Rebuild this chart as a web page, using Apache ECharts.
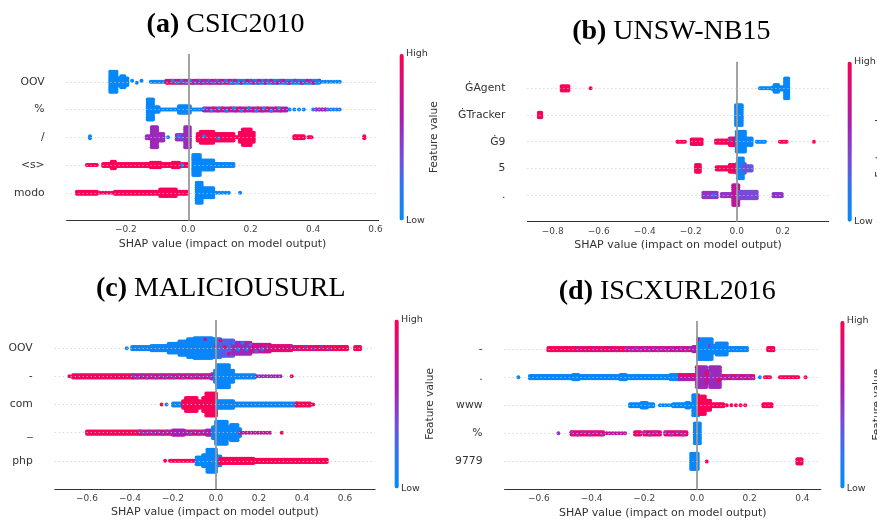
<!DOCTYPE html>
<html>
<head>
<meta charset="utf-8">
<script src="https://cdn.jsdelivr.net/npm/echarts/dist/echarts.min.js"></script>
<style>
  html, body { margin: 0; padding: 0; background: #fff; }
  #chart { width: 877px; height: 522px; }
</style>
</head>
<body>
<div id="chart"></div>
<script>
// feature names, top row first
var featuresA = ['OOV', '%', '/', '<s>', 'modo']
var featuresB = ['\u0120Agent', '\u0120Tracker', '\u01209', '5', '.']
var featuresC = ['OOV', '-', 'com', '_', 'php']
var featuresD = ['-', '.', 'www', '%', '9779']

var ticksA = [-0.2, 0, 0.2, 0.4, 0.6]
var ticksB = [-0.8, -0.6, -0.4, -0.2, 0, 0.2]
var ticksC = [-0.6, -0.4, -0.2, 0, 0.2, 0.4, 0.6]
var ticksD = [-0.6, -0.4, -0.2, 0, 0.2, 0.4]

// swarm bands: [row, shap from, shap to, points stacked, feature value (0 low .. 1 high), share drawn]
var shapA = [
  [0, -0.25, -0.23, 10, 0.02], [0, -0.225, -0.195, 4, 0.02], [0, -0.215, -0.205, 6, 0.02],
  [0, -0.18, -0.14, 2, 0.02, 0.4], [0, -0.12, -0.07, 1, 0.05],
  [0, -0.07, 0.145, 2, 0.85], [0, -0.05, 0.14, 2, 0.1, 0.3], [0, 0.0, 0.1, 2, 0.55, 0.3],
  [0, 0.145, 0.42, 2, 0.08], [0, 0.15, 0.42, 2, 0.8, 0.25], [0, 0.2, 0.4, 2, 0.5, 0.2],
  [0, 0.42, 0.49, 1, 0.05, 0.5],
  [1, -0.13, -0.113, 10, 0.03], [1, -0.113, -0.03, 1, 0.03], [1, -0.11, -0.095, 3, 0.03],
  [1, -0.03, 0.005, 4, 0.05], [1, 0.005, 0.05, 1, 0.05],
  [1, 0.05, 0.315, 2, 0.6], [1, 0.08, 0.3, 2, 0.92, 0.35], [1, 0.05, 0.3, 2, 0.1, 0.2],
  [1, 0.325, 0.37, 1, 0.05, 0.4], [1, 0.4, 0.49, 1, 0.1, 0.6], [1, 0.41, 0.44, 1, 0.55, 0.5],
  [2, -0.315, -0.315, 2, 0.05], [2, -0.133, -0.117, 2, 0.55], [2, -0.117, -0.1, 10, 0.55],
  [2, -0.1, -0.08, 4, 0.55], [2, -0.065, -0.065, 1, 0.05],
  [2, -0.037, -0.01, 3, 0.5], [2, -0.03, -0.01, 2, 0.1, 0.3], [2, -0.01, 0.005, 10, 0.55],
  [2, 0.03, 0.145, 4, 0.97], [2, 0.04, 0.08, 6, 0.97], [2, 0.05, 0.12, 2, 0.1, 0.1],
  [2, 0.145, 0.165, 1, 0.97], [2, 0.165, 0.21, 5, 0.97], [2, 0.175, 0.2, 8, 0.97],
  [2, 0.34, 0.37, 2, 0.97], [2, 0.385, 0.395, 1, 0.97], [2, 0.564, 0.564, 2, 0.97],
  [3, -0.325, -0.293, 1, 0.97], [3, -0.273, -0.004, 2, 0.97], [3, -0.245, -0.235, 4, 0.97],
  [3, -0.12, -0.09, 3, 0.97], [3, -0.05, -0.03, 3, 0.97], [3, -0.02, -0.02, 1, 0.05],
  [3, 0.016, 0.037, 10, 0.04], [3, 0.037, 0.08, 5, 0.04], [3, 0.08, 0.145, 2, 0.04],
  [4, -0.357, -0.293, 2, 0.97], [4, -0.283, -0.235, 1, 0.97, 0.5], [4, -0.235, -0.005, 2, 0.97],
  [4, -0.09, -0.04, 4, 0.97], [4, 0.027, 0.043, 10, 0.04], [4, 0.043, 0.08, 5, 0.04],
  [4, 0.08, 0.135, 1, 0.04, 0.6], [4, 0.166, 0.166, 1, 0.04]
]

var shapB = [
  [0, -0.761, -0.732, 3, 0.97], [0, -0.635, -0.635, 1, 0.97],
  [0, 0.101, 0.158, 1, 0.03], [0, 0.158, 0.21, 2, 0.03], [0, 0.165, 0.18, 4, 0.03],
  [0, 0.21, 0.224, 10, 0.03],
  [1, -0.86, -0.85, 3, 0.97], [1, -0.003, 0.022, 10, 0.03],
  [2, -0.258, -0.225, 1, 0.97], [2, -0.196, -0.152, 3, 0.97], [2, -0.09, 0.0, 2, 0.97],
  [2, -0.03, 0.0, 4, 0.97], [2, -0.03, 0.0, 3, 0.5, 0.2], [2, 0.0, 0.036, 10, 0.03],
  [2, 0.036, 0.065, 4, 0.03], [2, 0.087, 0.123, 1, 0.03], [2, 0.188, 0.217, 1, 0.97],
  [2, 0.336, 0.336, 1, 0.97],
  [3, -0.177, -0.16, 4, 0.97], [3, -0.087, -0.007, 2, 0.97], [3, -0.03, -0.005, 4, 0.97],
  [3, 0.0, 0.035, 5, 0.5], [3, 0.005, 0.027, 10, 0.03], [3, 0.027, 0.065, 3, 0.35],
  [4, -0.145, -0.087, 3, 0.5], [4, -0.1, -0.1, 1, 0.05], [4, -0.065, -0.015, 2, 0.5],
  [4, -0.015, 0.007, 10, 0.7], [4, 0.007, 0.087, 4, 0.4], [4, 0.16, 0.196, 2, 0.5]
]

var shapC = [
  [0, -0.415, -0.415, 1, 0.05], [0, -0.39, -0.3, 2, 0.05], [0, -0.3, -0.22, 3, 0.05],
  [0, -0.22, -0.17, 5, 0.05], [0, -0.17, -0.13, 7, 0.05], [0, -0.13, -0.1, 9, 0.05],
  [0, -0.1, -0.02, 10, 0.05], [0, -0.02, 0.02, 9, 0.08], [0, -0.05, 0.02, 9, 0.6, 0.15],
  [0, 0.02, 0.08, 8, 0.3], [0, 0.02, 0.08, 8, 0.85, 0.3],
  [0, 0.08, 0.16, 6, 0.55], [0, 0.08, 0.16, 6, 0.1, 0.35],
  [0, 0.16, 0.25, 4, 0.75], [0, 0.16, 0.25, 4, 0.3, 0.25], [0, 0.25, 0.35, 3, 0.85],
  [0, 0.35, 0.61, 2, 0.95], [0, 0.35, 0.55, 2, 0.55, 0.2], [0, 0.647, 0.67, 2, 0.97],
  [1, -0.682, -0.682, 1, 0.97], [1, -0.665, -0.385, 2, 0.95],
  [1, -0.385, -0.02, 2, 0.85], [1, -0.385, -0.02, 2, 0.5, 0.3], [1, -0.02, 0.0, 3, 0.55],
  [1, -0.005, 0.005, 6, 0.1], [1, 0.005, 0.06, 11, 0.04], [1, 0.06, 0.08, 6, 0.04],
  [1, 0.08, 0.18, 2, 0.04], [1, 0.19, 0.3, 1, 0.55, 0.5], [1, 0.352, 0.352, 1, 0.97],
  [2, -0.253, -0.253, 1, 0.97], [2, -0.23, -0.23, 1, 0.04], [2, -0.2, -0.153, 2, 0.04],
  [2, -0.153, -0.14, 4, 0.97], [2, -0.14, -0.09, 7, 0.97], [2, -0.09, -0.075, 4, 0.97],
  [2, -0.075, -0.06, 3, 0.97], [2, -0.06, -0.045, 7, 0.97], [2, -0.045, 0.0, 11, 0.97],
  [2, 0.005, 0.08, 4, 0.04], [2, 0.08, 0.375, 2, 0.04], [2, 0.375, 0.437, 2, 0.97],
  [2, 0.452, 0.452, 1, 0.97],
  [3, -0.6, -0.353, 2, 0.97], [3, -0.353, -0.043, 2, 0.85], [3, -0.353, -0.043, 2, 0.5, 0.3],
  [3, -0.2, -0.15, 3, 0.6], [3, -0.043, -0.014, 3, 0.6], [3, -0.014, 0.0, 6, 0.04],
  [3, 0.0, 0.05, 11, 0.04], [3, 0.05, 0.07, 6, 0.04], [3, 0.07, 0.1, 8, 0.04],
  [3, 0.1, 0.112, 4, 0.04], [3, 0.112, 0.251, 1, 0.7, 0.6], [3, 0.306, 0.306, 1, 0.97],
  [4, -0.237, -0.237, 1, 0.97], [4, -0.214, -0.09, 1, 0.97], [4, -0.09, -0.06, 4, 0.04],
  [4, -0.06, -0.04, 6, 0.04], [4, -0.04, 0.0, 11, 0.04], [4, 0.0, 0.02, 5, 0.04],
  [4, 0.02, 0.173, 3, 0.97], [4, 0.173, 0.515, 2, 0.97]
]

var shapD = [
  [0, -0.564, -0.267, 2, 0.95], [0, -0.45, -0.3, 2, 0.6, 0.2], [0, -0.267, -0.014, 2, 0.85],
  [0, -0.267, -0.014, 2, 0.5, 0.3], [0, -0.014, 0.004, 3, 0.6], [0, 0.004, 0.056, 10, 0.05],
  [0, 0.004, 0.056, 10, 0.6, 0.12], [0, 0.056, 0.075, 4, 0.05], [0, 0.075, 0.113, 6, 0.05],
  [0, 0.113, 0.19, 2, 0.05], [0, 0.27, 0.29, 2, 0.97],
  [1, -0.678, -0.678, 1, 0.04], [1, -0.634, -0.065, 2, 0.04], [1, -0.47, -0.45, 3, 0.04],
  [1, -0.29, -0.27, 3, 0.04], [1, -0.1, -0.065, 3, 0.04],
  [1, -0.065, 0.0, 3, 0.6], [1, -0.065, 0.0, 3, 0.95, 0.3], [1, 0.0, 0.035, 10, 0.55],
  [1, 0.035, 0.05, 6, 0.7], [1, 0.05, 0.087, 10, 0.55], [1, 0.0, 0.087, 10, 0.1, 0.12],
  [1, 0.0, 0.087, 10, 0.95, 0.15], [1, 0.087, 0.214, 2, 0.85],
  [1, 0.087, 0.214, 2, 0.5, 0.3], [1, 0.239, 0.239, 1, 0.04], [1, 0.258, 0.277, 1, 0.97],
  [1, 0.315, 0.384, 1, 0.97], [1, 0.412, 0.412, 1, 0.97],
  [2, -0.254, -0.166, 2, 0.04], [2, -0.21, -0.19, 3, 0.04], [2, -0.14, -0.09, 1, 0.04, 0.5],
  [2, -0.09, -0.014, 2, 0.04], [2, -0.04, -0.03, 3, 0.04], [2, -0.014, 0.005, 10, 0.04],
  [2, 0.005, 0.03, 9, 0.97], [2, 0.03, 0.05, 5, 0.97], [2, 0.05, 0.1, 2, 0.97],
  [2, 0.113, 0.189, 1, 0.97, 0.4], [2, 0.252, 0.283, 2, 0.97],
  [3, -0.526, -0.526, 1, 0.5], [3, -0.476, -0.356, 2, 0.9], [3, -0.476, -0.356, 2, 0.5, 0.25],
  [3, -0.343, -0.267, 1, 0.7, 0.5], [3, -0.235, -0.215, 2, 0.9], [3, -0.2, -0.14, 2, 0.9],
  [3, -0.2, -0.14, 2, 0.5, 0.25], [3, -0.12, -0.04, 2, 0.9], [3, -0.12, -0.04, 2, 0.45, 0.25],
  [3, -0.008, 0.011, 10, 0.04],
  [4, -0.022, 0.003, 8, 0.04], [4, 0.037, 0.037, 1, 0.97], [4, 0.381, 0.397, 3, 0.97]
]

var colormap = ['#008bfb', '#2a78f5', '#7a4ad8', '#a81fb0', '#d60d86', '#ff0052']

var panels = [
  { title: '(a)', name: 'CSIC2010', feats: featuresA, ticks: ticksA, data: shapA, min: -0.39, max: 0.61,
    grid: { left: 66.6, top: 54, width: 312, height: 166.5 }, tx: 225.5, ty: 24.5,
    bar: { x: 399.5, y: 54, h: 166.5 }, fvx: 434 },
  { title: '(b)', name: 'UNSW-NB15', feats: featuresB, ticks: ticksB, data: shapB, min: -0.91, max: 0.4,
    grid: { left: 527.4, top: 61.7, width: 301.3, height: 160 }, tx: 671.3, ty: 31.7,
    bar: { x: 847.5, y: 61.7, h: 160 }, fvx: 880 },
  { title: '(c)', name: 'MALICIOUSURL', feats: featuresC, ticks: ticksC, data: shapC, min: -0.75, max: 0.74,
    grid: { left: 54.75, top: 320, width: 320.35, height: 169 }, tx: 220.8, ty: 288.5,
    bar: { x: 394.5, y: 319.5, h: 169 }, fvx: 430 },
  { title: '(d)', name: 'ISCXURL2016', feats: featuresD, ticks: ticksD, data: shapD, min: -0.73, max: 0.47,
    grid: { left: 504.6, top: 321, width: 316.2, height: 168.5 }, tx: 667.3, ty: 291.7,
    bar: { x: 840.3, y: 321, h: 167.5 }, fvx: 877 }
]

function tickText(ticks) {
  return function (v) {
    for (var i = 0; i < ticks.length; i++) {
      var t = ticks[i]
      if (Math.abs(v - t) < 1e-6) return (t < -1e-9 ? '\u2212' : '') + Math.abs(t).toFixed(1)
    }
    return ''
  }
}

function renderSwarm(params, api) {
  var row = api.value(0)
  var p0 = api.coord([api.value(1), row])
  var p1 = api.coord([api.value(2), row])
  var layers = api.value(3)
  var dens = api.value(5)
  var color = api.visual('color')
  var step = 1.5
  var vstep = 2.2
  var n = Math.max(1, Math.round((p1[0] - p0[0]) / step) + 1)
  var every = dens < 1 ? Math.round(1 / dens) : 1
  var kids = []
  function dot(x, y) {
    kids.push({ type: 'circle', shape: { cx: x, cy: y, r: 2 }, style: { fill: color } })
  }
  for (var i = 0; i < n; i += every) {
    var x = n === 1 ? p0[0] : p0[0] + (p1[0] - p0[0]) * i / (n - 1)
    if (every === 1) {
      for (var j = 0; j < layers; j++) dot(x, p0[1] + (j - (layers - 1) / 2) * vstep)
    } else {
      var k = ((i / every) * 3) % layers
      dot(x, p0[1] + (k - (layers - 1) / 2) * vstep)
    }
  }
  return { type: 'group', children: kids }
}

var chart = echarts.init(document.getElementById('chart'))

var grids = [], xAxes = [], yAxes = [], series = [], lines = [], visualMaps = [], graphics = []
var textColor = '#333'

panels.forEach(function (p, i) {
  grids.push(p.grid)
  xAxes.push({
    type: 'value', gridIndex: i, min: p.min, max: p.max, interval: 0.01,
    axisLine: { onZero: false, lineStyle: { color: '#333', width: 1 } },
    axisTick: { show: false },
    splitLine: { show: false },
    axisLabel: { formatter: tickText(p.ticks), color: '#444', fontSize: 9, fontFamily: 'DejaVu Sans', margin: 5 },
    name: 'SHAP value (impact on model output)', nameLocation: 'middle', nameGap: 18,
    nameTextStyle: { color: textColor, fontSize: 11, fontFamily: 'DejaVu Sans' }
  })
  yAxes.push({
    type: 'value', gridIndex: i, min: -1, max: p.feats.length, interval: 1, inverse: true,
    axisLine: { show: false, onZero: false }, axisTick: { show: false }, splitLine: { show: false },
    axisLabel: {
      formatter: function (v) { return p.feats[v] || '' },
      color: textColor, fontSize: 10.8, fontFamily: 'DejaVu Sans', margin: 22
    }
  })
  series.push({
    type: 'custom', xAxisIndex: i, yAxisIndex: i, z: 3, silent: true, clip: false,
    dimensions: ['row', 'from', 'to', 'stack', 'feature', 'share'],
    encode: { x: [1, 2], y: 0 },
    renderItem: renderSwarm,
    data: p.data.map(function (d) { return d.length > 5 ? d : d.concat([1]) })
  })
  var marks = [{ xAxis: 0, lineStyle: { color: '#999', width: 1.8, type: 'solid' } }]
  p.feats.forEach(function (f, r) {
    marks.push({ yAxis: r, lineStyle: { color: '#c8c8c8', width: 1, type: [1, 3] } })
  })
  lines.push({
    type: 'line', xAxisIndex: i, yAxisIndex: i, z: 1, data: [], silent: true,
    markLine: { symbol: 'none', silent: true, animation: false, label: { show: false }, data: marks }
  })
  visualMaps.push({
    type: 'continuous', seriesIndex: i, dimension: 4, min: 0, max: 1,
    orient: 'vertical', left: p.bar.x, top: p.bar.y, itemWidth: 4.3, itemHeight: p.bar.h,
    padding: 0, calculable: false, hoverLink: false, text: null, showLabel: false,
    inRange: { color: colormap }
  })
  graphics.push({
    type: 'text', x: p.tx, y: p.ty, silent: true,
    style: {
      text: '{b|' + p.title + '}{n| ' + p.name + '}',
      align: 'center', verticalAlign: 'middle', fill: '#000',
      rich: {
        b: { fontFamily: 'Liberation Serif', fontSize: 28, fontWeight: 'bold', fill: '#000' },
        n: { fontFamily: 'Liberation Serif', fontSize: 28, fill: '#000' }
      }
    }
  })
  graphics.push({
    type: 'text', x: p.bar.x + 6.5, y: p.bar.y, silent: true,
    style: { text: 'High', fontFamily: 'DejaVu Sans', fontSize: 9.5, fill: textColor, align: 'left', verticalAlign: 'middle' }
  })
  graphics.push({
    type: 'text', x: p.bar.x + 6.5, y: p.bar.y + p.bar.h, silent: true,
    style: { text: 'Low', fontFamily: 'DejaVu Sans', fontSize: 9.5, fill: textColor, align: 'left', verticalAlign: 'middle' }
  })
  graphics.push({
    type: 'text', x: p.fvx, y: p.bar.y + p.bar.h / 2, rotation: Math.PI / 2, silent: true,
    style: { text: 'Feature value', fontFamily: 'DejaVu Sans', fontSize: 10.5, fill: textColor, align: 'center', verticalAlign: 'middle' }
  })
})

chart.setOption({
  animation: false,
  grid: grids,
  xAxis: xAxes,
  yAxis: yAxes,
  visualMap: visualMaps,
  series: series.concat(lines),
  graphic: graphics
})
</script>
</body>
</html>
